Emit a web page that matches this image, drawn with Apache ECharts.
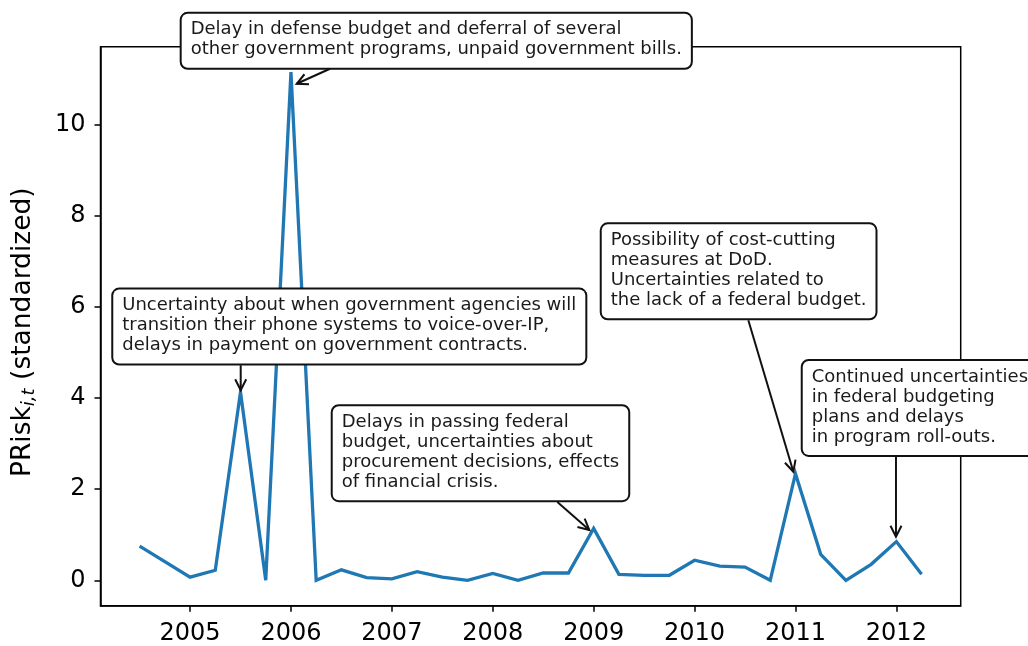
<!DOCTYPE html>
<html>
<head>
<meta charset="utf-8">
<script src="https://cdn.jsdelivr.net/npm/echarts@6/dist/echarts.min.js"></script>
<style>
html,body{margin:0;padding:0;background:#fff;}
#main{width:1028px;height:646px;}
</style>
</head>
<body>
<div id="main"></div>
<script>
// ---- data ----
const quarters = [2004.5, 2004.75, 2005.0, 2005.25, 2005.5, 2005.75, 2006.0, 2006.25,
  2006.5, 2006.75, 2007.0, 2007.25, 2007.5, 2007.75, 2008.0, 2008.25,
  2008.5, 2008.75, 2009.0, 2009.25, 2009.5, 2009.75, 2010.0, 2010.25,
  2010.5, 2010.75, 2011.0, 2011.25, 2011.5, 2011.75, 2012.0, 2012.25];
const priskValues = [0.75, 0.41, 0.07, 0.22, 4.13, 0.0, 11.15, 0.0,
  0.23, 0.06, 0.03, 0.19, 0.07, 0.0, 0.15, 0.0,
  0.16, 0.16, 1.14, 0.13, 0.11, 0.11, 0.44, 0.31,
  0.29, 0.0, 2.34, 0.57, 0.0, 0.35, 0.85, 0.13];
const xTickLabels = [2005, 2006, 2007, 2008, 2009, 2010, 2011, 2012];
const yTickLabels = [0, 2, 4, 6, 8, 10];

// annotation texts
const annTexts = [
  "Delay in defense budget and deferral of several\nother government programs, unpaid government bills.",
  "Uncertainty about when government agencies will\ntransition their phone systems to voice-over-IP,\ndelays in payment on government contracts.",
  "Delays in passing federal\nbudget, uncertainties about\nprocurement decisions, effects\nof financial crisis.",
  "Possibility of cost-cutting\nmeasures at DoD.\nUncertainties related to\nthe lack of a federal budget.",
  "Continued uncertainties\nin federal budgeting\nplans and delays\nin program roll-outs."
];
// annotation box top-left, arrow tail and arrow tip, in data coordinates
const annBoxAt   = [[2004.917, 12.429], [2004.239, 6.379], [2006.414, 3.821], [2009.080, 7.810], [2011.072, 4.814]];
const annTailAt  = [[2006.387, 11.223], [2005.502, 4.719], [2008.640, 1.716], [2010.533, 5.706], [2011.996, 2.747]];
const annTipAt   = [[2006.057, 10.894], [2005.502, 4.171], [2008.957, 1.102], [2010.979, 2.381], [2011.996, 0.956]];

const FONT = "'DejaVu Sans', 'Liberation Sans', sans-serif";
const chart = echarts.init(document.getElementById('main'), null, {renderer: 'canvas'});

const seriesData = quarters.map((q, i) => [q, priskValues[i]]);

chart.setOption({
  animation: false,
  backgroundColor: '#fff',
  grid: {left: 100.5, right: 67.3, top: 46.7, bottom: 40.3, show: true,
         borderColor: '#000', borderWidth: 1.5, backgroundColor: 'transparent'},
  xAxis: {
    type: 'value', min: 2004.1125, max: 2012.6375,
    splitLine: {show: false},
    axisLine: {show: true, onZero: false, lineStyle: {color: '#000', width: 1.5}},
    axisTick: {show: true, customValues: xTickLabels, length: 6, lineStyle: {color: '#000', width: 1.5}},
    axisLabel: {customValues: xTickLabels, fontSize: 24, color: '#000', fontFamily: FONT, margin: 16,
                formatter: v => String(v)}
  },
  yAxis: {
    type: 'value', min: -0.5575, max: 11.7075,
    splitLine: {show: false},
    axisLine: {show: true, onZero: false, lineStyle: {color: '#000', width: 1.5}},
    axisTick: {show: true, customValues: yTickLabels, length: 6, lineStyle: {color: '#000', width: 1.5}},
    axisLabel: {customValues: yTickLabels, fontSize: 24, color: '#000', fontFamily: FONT, margin: 15},
    name: '{m|PRisk}{s|i,t}{m| (standardized)}',
    nameLocation: 'middle', nameRotate: 90, nameGap: 62,
    nameTextStyle: {
      padding: [0, 12, 0, 0],
      rich: {
        m: {fontSize: 26.5, fontFamily: FONT, color: '#000'},
        s: {fontSize: 18, fontFamily: FONT, fontStyle: 'italic', color: '#000', verticalAlign: 'bottom', padding: [12, 0, 0, 0]}
      }
    }
  },
  series: [{
    type: 'line', data: seriesData, showSymbol: false, symbol: 'none',
    lineStyle: {color: '#1f77b4', width: 3.3, join: 'miter'}, z: 2
  }]
});

// annotations
const elements = [];
const HEAD_L = 11, HEAD_W = 5.5;
for (let i = 0; i < annTexts.length; i++) {
  const box = chart.convertToPixel({gridIndex: 0}, annBoxAt[i]);
  const tail = chart.convertToPixel({gridIndex: 0}, annTailAt[i]);
  const tip = chart.convertToPixel({gridIndex: 0}, annTipAt[i]);
  const dx = tip[0] - tail[0], dy = tip[1] - tail[1];
  const len = Math.sqrt(dx * dx + dy * dy);
  const ux = dx / len, uy = dy / len;
  const bx = tip[0] - ux * HEAD_L, by = tip[1] - uy * HEAD_L;
  elements.push({
    type: 'polyline', z: 50,
    shape: {points: [tail, tip]},
    style: {stroke: '#111', lineWidth: 2, fill: null}
  });
  elements.push({
    type: 'polyline', z: 50,
    shape: {points: [[bx - uy * HEAD_W, by + ux * HEAD_W], tip, [bx + uy * HEAD_W, by - ux * HEAD_W]]},
    style: {stroke: '#111', lineWidth: 2, fill: null, lineJoin: 'miter'}
  });
  elements.push({
    type: 'text', z: 60, x: box[0], y: box[1],
    style: {
      text: annTexts[i], fontSize: 18, fontFamily: FONT, fill: '#1a1a1a',
      lineHeight: 20, align: 'left', verticalAlign: 'top',
      backgroundColor: '#fff', borderColor: '#111', borderWidth: 2, borderRadius: 6,
      padding: [6, 9, 8, 9]
    }
  });
}
chart.setOption({graphic: {elements: elements}});
</script>
</body>
</html>
